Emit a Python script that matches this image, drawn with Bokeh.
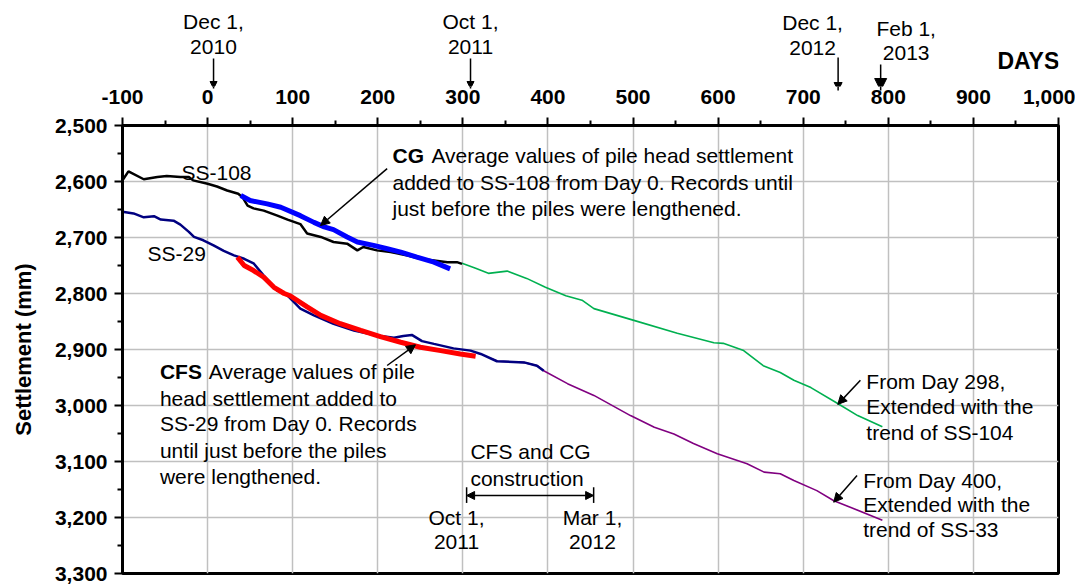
from bokeh.plotting import figure
from bokeh.layouts import column
from bokeh.models import Range1d, FixedTicker, NumeralTickFormatter, Label, Arrow, NormalHead
from bokeh.embed import file_html
from bokeh.resources import INLINE

# ---------------- data ----------------
x_ticks = list(range(-100, 1001, 100))
x_minor = list(range(-50, 1000, 100))
y_ticks = list(range(2500, 3301, 100))
y_minor = list(range(2550, 3300, 100))

ss108_days = [-100, -93, -75, -59, -48, -32, -22, -17, 0, 11, 23, 36, 41, 47, 54, 66, 82, 94,
              109, 117, 133, 148, 164, 176, 183, 199, 215, 235, 250, 266, 282, 293, 299]
ss108_mm = [2598, 2582, 2596, 2592, 2590, 2592, 2592, 2598, 2604, 2609, 2616, 2622, 2628, 2643,
            2648, 2652, 2661, 2668, 2676, 2693, 2699, 2708, 2711, 2723, 2717, 2723, 2726, 2732,
            2738, 2741, 2744, 2744, 2747]

cg_days = [39, 50, 70, 86, 109, 125, 137, 148, 164, 176, 195, 211, 227, 246, 266, 285]
cg_mm = [2625, 2634, 2640, 2646, 2661, 2673, 2681, 2686, 2699, 2708, 2714, 2720, 2726, 2735,
         2744, 2756]

ss29_days = [-100, -87, -75, -63, -55, -40, -32, -22, -16, -5, 7, 19, 31, 43, 54, 66, 82, 94,
             109, 125, 148, 172, 199, 219, 230, 240, 252, 266, 289, 309, 321, 340, 372, 387, 395]
ss29_mm = [2654, 2657, 2664, 2662, 2668, 2670, 2677, 2690, 2699, 2705, 2714, 2724, 2732, 2738,
           2746, 2768, 2795, 2804, 2827, 2839, 2854, 2866, 2875, 2879, 2876, 2874, 2885, 2890,
           2898, 2902, 2908, 2921, 2923, 2929, 2938]

cfs_days = [35, 43, 54, 66, 78, 90, 97, 117, 133, 156, 180, 203, 227, 250, 274, 297, 315]
cfs_mm = [2735, 2750, 2759, 2771, 2789, 2800, 2804, 2824, 2839, 2854, 2866, 2877, 2887, 2896,
          2902, 2908, 2912]

ss104_days = [299, 315, 330, 352, 375, 397, 421, 440, 454, 501, 552, 595, 606, 630, 653, 673,
              689, 709, 740, 764, 793]
ss104_mm = [2746, 2755, 2764, 2760, 2773, 2789, 2804, 2812, 2827, 2848, 2871, 2888, 2889, 2902,
            2929, 2941, 2955, 2968, 2996, 3018, 3038]

ss33_days = [333, 341, 371, 388, 395, 423, 454, 497, 525, 548, 571, 599, 634, 654, 673, 689,
             716, 736, 756, 793]
ss33_mm = [2916, 2921, 2923, 2929, 2938, 2961, 2982, 3018, 3039, 3051, 3068, 3086, 3104, 3119,
           3122, 3134, 3152, 3170, 3182, 3205]

FONT = "Liberation Sans"
W = 1075
ML, MR = 122, 17

x_range = Range1d(-100, 1000)


def style_axis(ax, ticks, minor):
    ax.ticker = FixedTicker(ticks=ticks, minor_ticks=minor)
    ax.formatter = NumeralTickFormatter(format="0,0")
    ax.axis_line_width = 3
    ax.axis_line_color = "black"
    ax.major_tick_line_width = 2
    ax.major_tick_line_color = "black"
    ax.major_tick_out = 8
    ax.major_tick_in = 0
    ax.minor_tick_line_width = 2
    ax.minor_tick_line_color = "black"
    ax.minor_tick_out = 5
    ax.minor_tick_in = 0
    ax.major_label_text_font = FONT
    ax.major_label_text_font_size = "21px"
    ax.major_label_text_font_style = "bold"
    ax.major_label_text_color = "black"


# ---------------- top strip: dates + day labels ----------------
top = figure(width=W, height=113, output_backend="svg", toolbar_location=None,
             x_range=x_range, y_range=Range1d(86, 0),
             min_border_left=ML, min_border_right=MR, min_border_top=0, min_border_bottom=27)
top.outline_line_color = None
top.grid.visible = False
top.yaxis.visible = False
tx = top.xaxis[0]
style_axis(tx, x_ticks, x_minor)
tx.axis_line_color = None
tx.major_tick_line_color = None
tx.minor_tick_line_color = None
tx.major_tick_out = 0
tx.minor_tick_out = 0
tx.major_label_standoff = 3

# ---------------- main figure ----------------
p = figure(width=W, height=473, output_backend="svg", toolbar_location=None,
           x_axis_location="above",
           x_range=x_range, y_range=Range1d(3300, 2500),
           min_border_left=ML, min_border_right=MR, min_border_top=12, min_border_bottom=13)
p.outline_line_color = "black"
p.outline_line_width = 3
p.background_fill_color = "white"
p.border_fill_color = "white"

style_axis(p.xaxis[0], x_ticks, x_minor)
p.xaxis[0].major_label_text_font_size = "0px"
p.xaxis[0].major_label_text_color = None
p.xaxis[0].major_label_standoff = 0
style_axis(p.yaxis[0], y_ticks, y_minor)
p.yaxis[0].major_label_standoff = 7
p.yaxis[0].axis_label = "Settlement (mm)"
p.yaxis[0].axis_label_text_font = FONT
p.yaxis[0].axis_label_text_font_size = "22px"
p.yaxis[0].axis_label_text_font_style = "bold"
p.yaxis[0].axis_label_text_color = "black"
p.yaxis[0].axis_label_standoff = 16

p.xgrid.grid_line_color = "#c0c0c0"
p.xgrid.grid_line_width = 1.5
p.ygrid.grid_line_color = "#c0c0c0"
p.ygrid.grid_line_width = 1.5

# ---------------- series ----------------
p.line(ss104_days, ss104_mm, line_color="#00b050", line_width=1.6)
p.line(ss33_days, ss33_mm, line_color="#800080", line_width=1.6)
p.line(ss108_days, ss108_mm, line_color="black", line_width=2.5)
p.line(ss29_days, ss29_mm, line_color="#000080", line_width=2.5)
p.line(cg_days, cg_mm, line_color="#0000ff", line_width=5)
p.line(cfs_days, cfs_mm, line_color="#ff0000", line_width=5)


# ---------------- annotations ----------------
def lab(fig, x, y, text, size="21px", bold=False, align="left"):
    fig.add_layout(Label(x=x, y=y, text=text, text_font=FONT, text_font_size=size,
                         text_font_style="bold" if bold else "normal", text_align=align,
                         text_baseline="middle", text_color="black"))


def arr(fig, x0, y0, x1, y1, size=9, start=False):
    head = dict(size=size, fill_color="black", line_color="black")
    fig.add_layout(Arrow(x_start=x0, y_start=y0, x_end=x1, y_end=y1, line_color="black",
                         line_width=1.5, end=NormalHead(**head),
                         start=NormalHead(**head) if start else None))


lab(p, -30.7, 2584, "SS-108")
lab(p, -70.6, 2729, "SS-29")

lab(p, 217.3, 2554, "CG", bold=True)
lab(p, 263.1, 2554, "Average values of pile head settlement")
lab(p, 217.3, 2601, "added to SS-108 from Day 0. Records until")
lab(p, 217.3, 2648, "just before the piles were lengthened.")
arr(p, 211, 2577, 132.7, 2678.6)

lab(p, -56, 2940, "CFS", bold=True)
lab(p, 1.4, 2940, "Average values of pile")
lab(p, -56, 2987, "head settlement added to")
lab(p, -56, 3033, "SS-29 from Day 0. Records")
lab(p, -56, 3080, "until just before the piles")
lab(p, -56, 3127, "were lengthened.")
arr(p, 211, 2928.6, 244.3, 2891.6)

lab(p, 774.2, 2958, "From Day 298,")
lab(p, 774.2, 3002, "Extended with the")
lab(p, 774.2, 3048, "trend of SS-104")
arr(p, 767.2, 2955, 740.6, 2998)

lab(p, 770.4, 3134, "From Day 400,")
lab(p, 770.4, 3176, "Extended with the")
lab(p, 770.4, 3222, "trend of SS-33")
arr(p, 763.3, 3125, 735.8, 3172.7)

lab(p, 308.9, 3083, "CFS and CG")
lab(p, 308.9, 3131, "construction")
arr(p, 304.4, 3160.7, 453.7, 3160.7, size=8, start=True)
p.segment(x0=[304.4, 453.7], y0=[3146, 3146], x1=[304.4, 453.7], y1=[3174, 3174],
          line_color="black", line_width=1.5)
lab(p, 292.5, 3199.5, "Oct 1,", align="center")
lab(p, 292.5, 3244, "2011", align="center")
lab(p, 452.3, 3199.5, "Mar 1,", align="center")
lab(p, 452.3, 3244, "2012", align="center")

# top date markers (y in pixels from the top of the strip)
lab(top, 6.9, 21, "Dec 1,", align="center")
lab(top, 6.9, 46, "2010", align="center")
arr(top, 7, 58, 7, 88, size=7)
lab(top, 309, 21, "Oct 1,", align="center")
lab(top, 309, 46, "2011", align="center")
arr(top, 309, 58, 309, 88, size=7)
lab(top, 711, 22, "Dec 1,", align="center")
lab(top, 711, 47, "2012", align="center")
arr(top, 741, 57, 741, 90, size=8)
lab(top, 821, 28, "Feb 1,", align="center")
lab(top, 821, 52, "2013", align="center")
arr(top, 791, 64, 791, 90, size=12)

lab(top, 964.6, 60, "DAYS", size="23px", bold=True, align="center")

layout = column(top, p, spacing=0)
open("out.html", "w").write(file_html(layout, INLINE))
